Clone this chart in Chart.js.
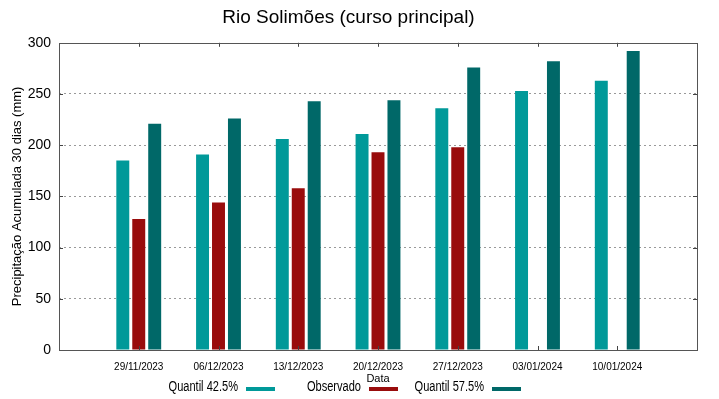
<!DOCTYPE html>
<html>
<head>
<meta charset="utf-8">
<script src="https://cdn.jsdelivr.net/npm/chart.js@4.4.0/dist/chart.umd.min.js"></script>
<style>
  html, body { margin: 0; padding: 0; background: #fff; }
  #wrap { width: 719px; height: 399px; }
</style>
</head>
<body>
<div id="wrap"><canvas id="rioChart" width="719" height="399"></canvas></div>
<script>
"use strict";

// datas (com rótulos vazios nas pontas, como no gnuplot)
var datas = [ "", "29/11/2023", "06/12/2023", "13/12/2023", "20/12/2023", "27/12/2023", "03/01/2024", "10/01/2024", "" ];

var quantil425 = [ null, 185, 191, 206, 211, 236, 253, 263, null ];
var observado  = [ null, 128, 144, 158, 193, 198, null, null, null ];
var quantil575 = [ null, 221, 226, 243, 244, 276, 282, 292, null ];

var yTicks = [ 0, 50, 100, 150, 200, 250, 300 ];

var cores = [ "#009999", "#990c0c", "#006868" ];

var fonte = "'Liberation Sans', Arial, sans-serif";

// moldura + marcas internas (estilo gnuplot)
var moldura = {
    id: "moldura",
    afterDatasetsDraw: function ( chart ) {
        var c = chart.ctx, a = chart.chartArea;
        var x = chart.scales.x, y = chart.scales.y;
        c.save();
        c.strokeStyle = "#444";
        c.lineWidth = 1;
        c.beginPath();
        for ( var i = 1; i < datas.length - 1; i++ ) {
            var px = Math.round( x.getPixelForValue( i ) ) + 0.5;
            c.moveTo( px, a.top ); c.lineTo( px, a.top + 4 );
            c.moveTo( px, a.bottom ); c.lineTo( px, a.bottom - 4 );
        }
        yTicks.forEach( function ( v ) {
            var py = Math.round( y.getPixelForValue( v ) ) + 0.5;
            c.moveTo( a.right, py ); c.lineTo( a.right - 4, py );
            c.moveTo( a.left, py ); c.lineTo( a.left + 4, py );
        } );
        c.stroke();
        c.strokeStyle = "#555";
        c.strokeRect( Math.round( a.left ) + 0.5, Math.round( a.top ) + 0.5,
                      Math.round( a.right - a.left ), Math.round( a.bottom - a.top ) );
        c.restore();
    }
};

// legenda: texto (estreitado) e depois a amostra de cor
var legenda = {
    id: "legenda",
    afterDraw: function ( chart ) {
        var c = chart.ctx;
        var fimTexto = [ 238, 361, 484 ];
        chart.data.datasets.forEach( function ( ds, i ) {
            c.save();
            c.translate( fimTexto[ i ], 387 );
            c.scale( 0.79, 1 );
            c.font = "14px " + fonte;
            c.textAlign = "right";
            c.textBaseline = "middle";
            c.fillStyle = "#000";
            c.fillText( ds.label, 0, 0 );
            c.restore();
            c.fillStyle = ds.backgroundColor;
            c.fillRect( fimTexto[ i ] + 8, 387, 29, 4 );
        } );
    }
};

var ctx = document.getElementById( "rioChart" );
var myChart = new Chart( ctx, {
    type: "bar",
    data: {
        labels: datas,
        datasets: [
            { label: "Quantil 42.5%", data: quantil425, backgroundColor: cores[ 0 ] },
            { label: "Observado", data: observado, backgroundColor: cores[ 1 ] },
            { label: "Quantil 57.5%", data: quantil575, backgroundColor: cores[ 2 ] }
        ]
    },
    options: {
        responsive: false,
        animation: false,
        categoryPercentage: 0.6,
        barPercentage: 0.8125,
        layout: { padding: { left: 0, right: 22, top: 0, bottom: 0 } },
        plugins: {
            legend: { display: false },
            tooltip: { enabled: false },
            title: {
                display: true,
                text: "Rio Solimões (curso principal)",
                color: "#000",
                font: { family: fonte, size: 19, weight: "normal", lineHeight: 1.2 },
                padding: { top: 6, bottom: 14 }
            }
        },
        scales: {
            x: {
                offset: false,
                grid: { display: false, drawTicks: false },
                border: { display: false },
                ticks: {
                    color: "#000",
                    padding: 11,
                    maxRotation: 0,
                    autoSkip: false,
                    font: { family: fonte, size: 10 }
                },
                title: {
                    display: true,
                    text: "Data",
                    color: "#000",
                    font: { family: fonte, size: 11, lineHeight: 1.2 },
                    padding: { top: 0, bottom: 13 }
                },
                afterFit: function ( s ) { s.height = 49; }
            },
            y: {
                min: 0,
                max: 300,
                afterBuildTicks: function ( s ) {
                    s.ticks = yTicks.map( function ( v ) { return { value: v }; } );
                },
                grid: {
                    color: function ( c ) { return ( c.tick.value === 0 || c.tick.value === 300 ) ? "rgba(0,0,0,0)" : "#999"; },
                    drawTicks: false,
                    lineWidth: 1
                },
                border: { display: false, dash: [ 2, 3 ] },
                ticks: {
                    color: "#000",
                    padding: 8,
                    font: { family: fonte, size: 14 }
                },
                title: {
                    display: true,
                    text: "Precipitação Acumulada 30 dias (mm)",
                    color: "#000",
                    font: { family: fonte, size: 13, lineHeight: 1.2 },
                    padding: { top: 10, bottom: 0 }
                },
                afterFit: function ( s ) { s.width = 59; }
            }
        }
    },
    plugins: [ moldura, legenda ]
} );
</script>
</body>
</html>
